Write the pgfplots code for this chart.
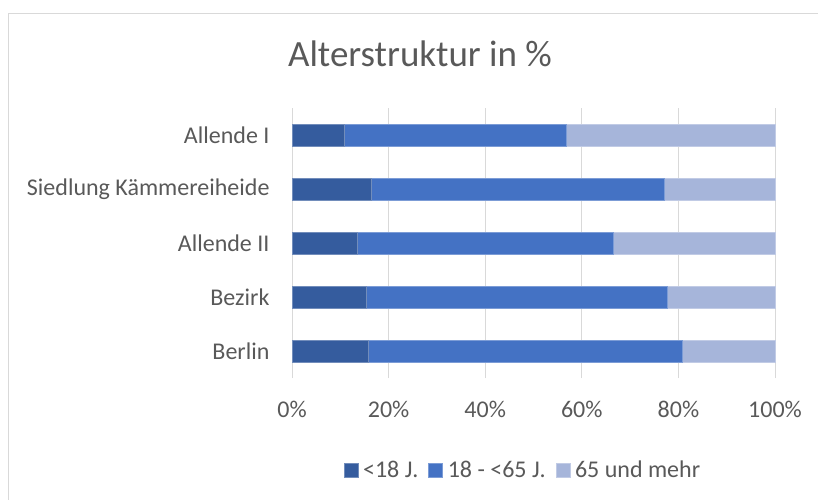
\documentclass[border=0pt]{standalone}
\usepackage{pgfplots}
\pgfplotsset{compat=1.18}
\usepackage{fontspec}
\setmainfont{Carlito}
\definecolor{cdark}{HTML}{355C9E}
\definecolor{cmid}{HTML}{4472C4}
\definecolor{clight}{HTML}{A6B5DA}
\definecolor{ctext}{HTML}{595959}
\definecolor{cgrid}{HTML}{D9D9D9}
\begin{document}
\begin{tikzpicture}[x=1pt,y=1pt]
\useasboundingbox (0,0) rectangle (818,499);
\draw[cgrid,line width=1pt] (8,-10) -- (8,485) -- (830,485);
\node[text=ctext,font=\fontsize{37}{42}\selectfont] at (420,445) {Alterstruktur in \%};
\begin{axis}[
  at={(292pt,121pt)}, anchor=south west,
  width=483pt, height=270pt, scale only axis,
  xbar stacked, bar width=22pt,
  xmin=0, xmax=100, ymin=-0.5, ymax=4.5,
  ytick={0,1,2,3,4},
  yticklabels={Berlin,Bezirk,Allende II,Siedlung Kämmereiheide,Allende I},
  xtick={0,20,40,60,80,100},
  xticklabel={\pgfmathprintnumber{\tick}\%},
  /pgf/number format/assume math mode=true,
  xmajorgrids, major grid style={cgrid,line width=1pt},
  axis line style={draw=none},
  major tick length=0pt,
  tick label style={text=ctext,font=\fontsize{24}{28}\selectfont},
  yticklabel style={xshift=-19pt},
  xticklabel style={yshift=-20pt},
  legend style={at={(0.478,-0.341)},anchor=center, draw=none, legend columns=3,
    font=\fontsize{24}{28}\selectfont, text=ctext,
    /tikz/every odd column/.append style={column sep=3pt},
    /tikz/every even column/.append style={column sep=8pt}},
  legend cell align=left,
  legend image code/.code={\fill[#1] (0pt,-7pt) rectangle (14pt,7pt);},
  clip=false,
]
\addplot[fill=cdark,draw=cdark!70!white,line width=0.5pt] coordinates {(15.7,0) (15.3,1) (13.6,2) (16.5,3) (10.9,4)};
\addplot[fill=cmid,draw=cmid!70!white,line width=0.5pt] coordinates {(65.1,0) (62.4,1) (52.9,2) (60.5,3) (45.8,4)};
\addplot[fill=clight,draw=clight!70!white,line width=0.5pt] coordinates {(19.2,0) (22.3,1) (33.5,2) (23.0,3) (43.3,4)};
\legend{<18 J.,18 - <65 J.,65 und mehr}
\end{axis}
\end{tikzpicture}
\end{document}
